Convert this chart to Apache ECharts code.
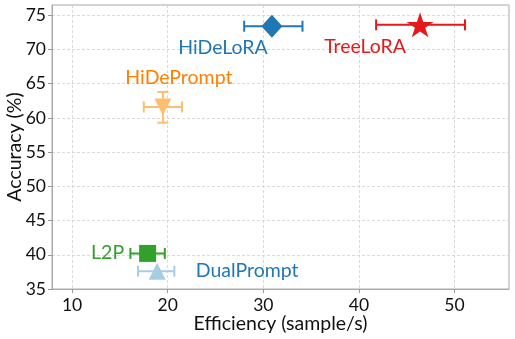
<!DOCTYPE html>
<html>
<head>
<meta charset="utf-8">
<script src="https://cdn.jsdelivr.net/npm/echarts@6/dist/echarts.min.js"></script>
<style>
  html, body { margin: 0; padding: 0; background: #fff; }
  #main { width: 515px; height: 339px; }
</style>
</head>
<body>
<div id="main"></div>
<script>
// values
var methods = ['TreeLoRA', 'HiDeLoRA', 'HiDePrompt', 'L2P', 'DualPrompt'];
var efficiency = [46.4, 30.9, 19.5, 17.9, 18.9];
var effLow = [41.8, 28.0, 17.5, 16.1, 16.9];
var effHigh = [51.1, 34.1, 21.5, 19.7, 20.7];
var accuracy = [73.6, 73.4, 61.6, 40.2, 37.6];
var accLow = [73.6, 73.4, 59.3, 40.2, 37.6];
var accHigh = [73.6, 73.4, 63.8, 40.2, 37.6];
var xTicks = [10, 20, 30, 40, 50];

// styles
var markerColors = ['#e31a1c', '#1f78b4', '#fdbf6f', '#33a02c', '#a6cee3'];
var labelColors = ['#e31a1c', '#1f78b4', '#ff7f00', '#33a02c', '#1f78b4'];
var starPath = 'path://M50,0 L61.2,34.5 L97.6,34.5 L68.2,55.9 L79.4,90.5 L50,69.1 L20.6,90.5 L31.8,55.9 L2.4,34.5 L38.8,34.5 Z';
var symbols = [starPath, 'diamond', 'triangle', 'rect', 'triangle'];
var symbolSizes = [[27, 25], [21, 23], [17, 17], [17, 17], [17, 17]];
var symbolRotates = [0, 0, 180, 0, 0];
var labelOffsets = [[-55, 22], [-49, 22], [16, -29], [-40, -1], [90, 0]];

var chart = echarts.init(document.getElementById('main'));

var errData = methods.map(function (m, i) {
  return [efficiency[i], accuracy[i], effLow[i], effHigh[i], accLow[i], accHigh[i]];
});

var series = [{
  type: 'custom',
  z: 2,
  data: errData,
  renderItem: function (params, api) {
    var i = params.dataIndex;
    var c = markerColors[i];
    var y = api.value(1), x = api.value(0);
    var pL = api.coord([api.value(2), y]);
    var pR = api.coord([api.value(3), y]);
    var cap = 5.5;
    var st = { stroke: c, lineWidth: 2 };
    var kids = [
      { type: 'line', shape: { x1: pL[0], y1: pL[1], x2: pR[0], y2: pR[1] }, style: st },
      { type: 'line', shape: { x1: pL[0], y1: pL[1] - cap, x2: pL[0], y2: pL[1] + cap }, style: st },
      { type: 'line', shape: { x1: pR[0], y1: pR[1] - cap, x2: pR[0], y2: pR[1] + cap }, style: st }
    ];
    if (api.value(5) > api.value(4)) {
      var pB = api.coord([x, api.value(4)]);
      var pT = api.coord([x, api.value(5)]);
      kids.push(
        { type: 'line', shape: { x1: pB[0], y1: pB[1], x2: pT[0], y2: pT[1] }, style: st },
        { type: 'line', shape: { x1: pB[0] - cap, y1: pB[1], x2: pB[0] + cap, y2: pB[1] }, style: st },
        { type: 'line', shape: { x1: pT[0] - cap, y1: pT[1], x2: pT[0] + cap, y2: pT[1] }, style: st }
      );
    }
    return { type: 'group', children: kids };
  }
}];

methods.forEach(function (m, i) {
  series.push({
    type: 'scatter',
    name: m,
    z: 3,
    symbol: symbols[i],
    symbolSize: symbolSizes[i],
    symbolRotate: symbolRotates[i],
    itemStyle: { color: markerColors[i], opacity: 1 },
    label: {
      show: true,
      position: 'inside',
      offset: labelOffsets[i],
      formatter: m,
      color: labelColors[i],
      fontFamily: 'Lato',
      fontSize: 19.5
    },
    emphasis: { disabled: true },
    data: [[efficiency[i], accuracy[i]]]
  });
});

var axisCommon = {
  nameMoveOverlap: false,
  axisLine: { show: true, lineStyle: { color: '#aaa', width: 1 } },
  axisTick: { show: true, inside: false, length: 4, lineStyle: { color: '#999' } },
  splitLine: { show: true, lineStyle: { color: '#d0d0d0', type: [3, 2], width: 0.8 } },
  axisLabel: { color: '#111', fontFamily: 'Lato', fontSize: 17.5 },
  nameTextStyle: { color: '#111', fontFamily: 'Lato', fontSize: 19.5 }
};

var option = {
  animation: false,
  backgroundColor: '#fff',
  grid: {
    left: 52, top: 5, right: 6, bottom: 50,
    outerBoundsMode: 'none',
    containLabel: false,
    show: true, borderColor: '#aaa', borderWidth: 1
  },
  xAxis: echarts.util.merge({
    type: 'value',
    min: 7.9,
    max: 55.7,
    name: 'Efficiency (sample/s)',
    nameLocation: 'middle',
    nameGap: 25,
    axisTick: { customValues: xTicks },
    axisLabel: { customValues: xTicks, margin: 7 }
  }, axisCommon),
  yAxis: echarts.util.merge({
    type: 'value',
    min: 35,
    max: 76.5,
    interval: 5,
    name: 'Accuracy (%)',
    nameLocation: 'middle',
    nameGap: 27,
    axisLabel: { margin: 6, showMaxLabel: false }
  }, axisCommon),
  series: series
};

chart.setOption(option);
</script>
</body>
</html>
